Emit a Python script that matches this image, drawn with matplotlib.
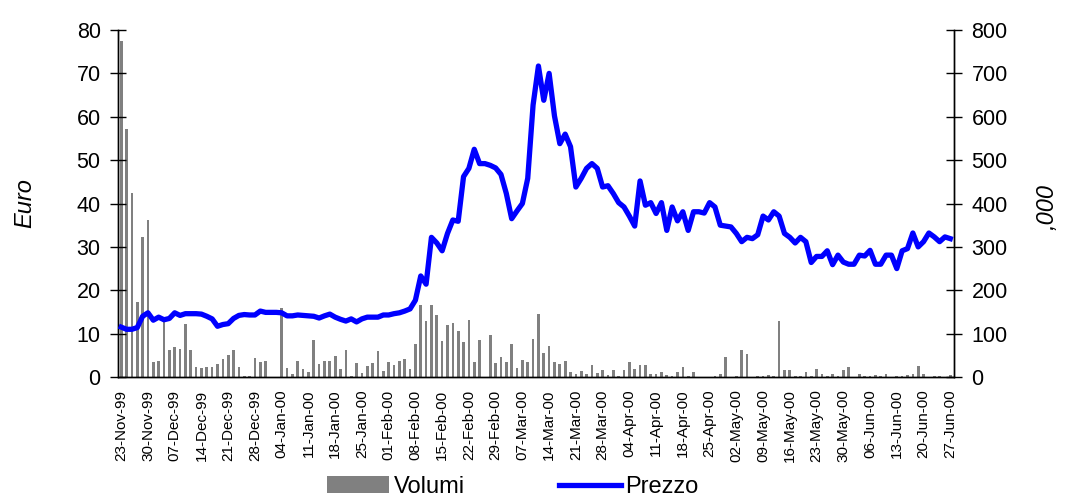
import numpy as np
import matplotlib
matplotlib.use('Agg')
import matplotlib.pyplot as plt
from matplotlib.patches import Patch
from matplotlib.lines import Line2D

plt.rcParams['font.family'] = ['Liberation Sans', 'DejaVu Sans']

# weekly tick labels (one every 5 trading days)
tick_labels = ['23-Nov-99', '30-Nov-99', '07-Dec-99', '14-Dec-99', '21-Dec-99', '28-Dec-99',
               '04-Jan-00', '11-Jan-00', '18-Jan-00', '25-Jan-00', '01-Feb-00', '08-Feb-00',
               '15-Feb-00', '22-Feb-00', '29-Feb-00', '07-Mar-00', '14-Mar-00', '21-Mar-00',
               '28-Mar-00', '04-Apr-00', '11-Apr-00', '18-Apr-00', '25-Apr-00', '02-May-00',
               '09-May-00', '16-May-00', '23-May-00', '30-May-00', '06-Jun-00', '13-Jun-00',
               '20-Jun-00', '27-Jun-00']

# volumes (,000)
volumi = [775, 571, 425, 172, 322, 363, 34, 38, 127, 62,
          69, 65, 123, 62, 23, 21, 22, 23, 29, 41,
          50, 62, 23, 2, 2, 44, 35, 37, 0, 0,
          158, 20, 6, 38, 19, 12, 85, 31, 38, 38,
          48, 18, 62, 2, 32, 9, 25, 32, 59, 13,
          35, 27, 38, 41, 19, 77, 165, 128, 165, 142,
          82, 119, 125, 105, 81, 131, 35, 85, 0, 96,
          32, 45, 34, 75, 20, 40, 34, 88, 145, 56,
          71, 34, 31, 36, 11, 8, 15, 6, 28, 10,
          17, 5, 17, 3, 17, 35, 19, 28, 28, 8,
          6, 12, 4, 2, 12, 23, 2, 12, 0, 0,
          1, 3, 6, 45, 0, 3, 63, 52, 0, 2,
          2, 5, 3, 128, 17, 17, 3, 2, 12, 2,
          19, 6, 3, 8, 3, 17, 22, 0, 8, 3,
          2, 5, 3, 8, 0, 2, 3, 5, 8, 25,
          8, 0, 3, 3, 0, 5]

# price (Euro)
prezzo = [11.5, 11.0, 11.0, 11.4, 14.0, 14.8, 13.1, 13.8, 13.2, 13.5,
          14.8, 14.2, 14.6, 14.6, 14.6, 14.5, 14.0, 13.4, 11.7, 12.1,
          12.3, 13.5, 14.2, 14.4, 14.3, 14.3, 15.2, 14.9, 14.9, 14.9,
          14.8, 14.1, 14.1, 14.3, 14.2, 14.1, 14.0, 13.6, 14.1, 14.5,
          13.8, 13.3, 12.9, 13.4, 12.7, 13.4, 13.8, 13.8, 13.8, 14.3,
          14.3, 14.6, 14.8, 15.2, 15.7, 17.7, 23.3, 21.4, 32.2, 30.9,
          29.1, 33.1, 36.2, 35.9, 46.2, 48.1, 52.5, 49.2, 49.2, 48.8,
          48.2, 46.7, 42.3, 36.5, 38.3, 40.0, 45.8, 62.7, 71.7, 63.8,
          70.0, 60.2, 53.8, 56.0, 53.1, 43.8, 45.8, 48.1, 49.2, 48.1,
          43.8, 44.1, 42.3, 40.2, 39.2, 37.1, 34.8, 45.2, 39.6, 40.2,
          37.7, 40.2, 33.8, 39.2, 36.0, 38.1, 33.8, 38.1, 38.1, 37.8,
          40.2, 39.2, 35.0, 34.8, 34.6, 33.1, 31.2, 32.2, 31.9, 32.8,
          37.1, 36.2, 38.1, 37.1, 33.1, 32.2, 30.9, 32.2, 31.2, 26.4,
          27.8, 27.8, 29.1, 25.9, 28.1, 26.5, 26.0, 26.0, 28.1, 27.9,
          29.2, 26.0, 26.0, 28.1, 28.1, 25.0, 29.1, 29.6, 33.2, 30.0,
          31.2, 33.2, 32.3, 31.2, 32.3, 31.9]


def main():
    x = np.arange(len(prezzo))

    fig = plt.figure(figsize=(10.65, 4.96), dpi=100)
    ax = fig.add_axes([0.1108, 0.2399, 0.7850, 0.6996])
    ax2 = ax.twinx()

    ax2.bar(x, volumi, width=0.5, color='#808080', zorder=1)
    ax.plot(x, prezzo, color='#0000FF', lw=3.8, solid_joinstyle='round', zorder=3)

    # line above the bars
    ax.set_zorder(ax2.get_zorder() + 1)
    ax.patch.set_visible(False)

    ax.set_xlim(-0.6, 155.7)
    ax.set_ylim(0, 80)
    ax2.set_ylim(0, 800)
    ax.set_yticks(np.arange(0, 81, 10))
    ax2.set_yticks(np.arange(0, 801, 100))
    ax.set_xticks(x[::5])
    ax.set_xticklabels(tick_labels, rotation=90, fontsize=11)

    for a in (ax, ax2):
        a.spines['top'].set_visible(False)
        for s in a.spines.values():
            s.set_linewidth(1.0)
    ax.tick_params(axis='y', direction='inout', length=11, width=1, labelsize=15.5, pad=7)
    ax2.tick_params(axis='y', direction='inout', length=11, width=1, labelsize=15.5, pad=7)
    ax.tick_params(axis='x', length=0, pad=9)

    fig.text(25 / 1065, 1 - 203 / 496, 'Euro', rotation=90, style='italic',
             fontsize=17, ha='center', va='center')
    fig.text(1047 / 1065, 1 - 207 / 496, ',000', rotation=90, style='italic',
             fontsize=17, ha='center', va='center')

    handles = [Patch(facecolor='#808080', edgecolor='none'),
               Line2D([0], [0], color='#0000FF', lw=3.8)]
    fig.legend(handles, ['Volumi', 'Prezzo'], loc='center', ncol=2,
               bbox_to_anchor=(513 / 1065, 9 / 496), frameon=False, fontsize=17,
               handlelength=2.6, handletextpad=0.2, columnspacing=4.0, borderpad=0)

    fig.savefig('out.png', dpi=100)


if __name__ == '__main__':
    main()
